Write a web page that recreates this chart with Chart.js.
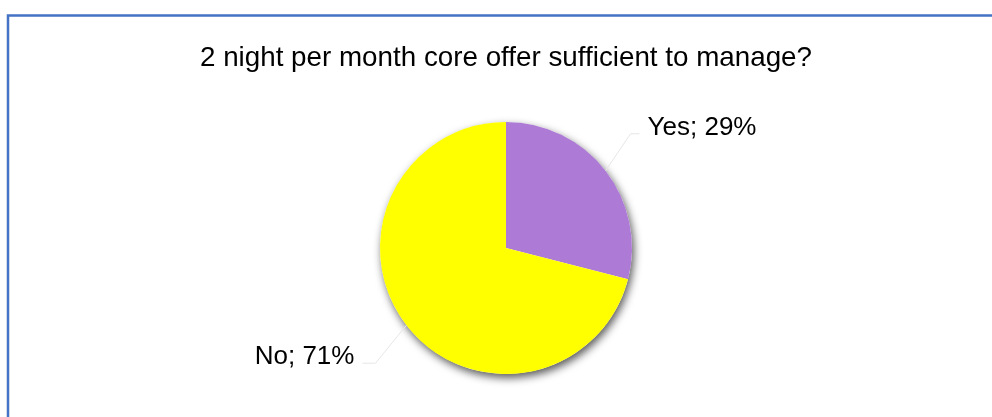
<!DOCTYPE html>
<html>
<head>
<meta charset="utf-8">
<script src="https://cdn.jsdelivr.net/npm/chart.js@4.4.1/dist/chart.umd.min.js"></script>
<style>
  html, body { margin: 0; padding: 0; background: #ffffff; }
  #wrap { width: 992px; height: 417px; position: relative; }
</style>
</head>
<body>
<div id="wrap"><canvas id="pie"></canvas></div>
<script>
// answers to the survey question
const categories = ["Yes", "No"];
const shares = [29, 71];
const sliceColors = ["#AD7BD6", "#FFFF00"];

// leader line layout per slice: elbow offset from the slice edge, then the short run
const leaders = [
  { dx: 25, dy: -37, run: 9, side: 1 },
  { dx: -31, dy: 38, run: -13, side: -1 },
];

const FONT = "'Liberation Sans', Arial, sans-serif";

// blue frame around the whole chart
const framePlugin = {
  id: "frame",
  beforeDraw(chart) {
    const ctx = chart.ctx;
    ctx.save();
    ctx.strokeStyle = "#4472C4";
    ctx.lineWidth = 2.5;
    ctx.strokeRect(8, 15.5, 1000, 430);
    ctx.restore();
  },
};

// soft drop shadow under the pie
const shadowPlugin = {
  id: "pieShadow",
  beforeDatasetsDraw(chart) {
    const arc = chart.getDatasetMeta(0).data[0];
    if (!arc) return;
    const ctx = chart.ctx;
    ctx.save();
    ctx.shadowColor = "rgba(0,0,0,0.65)";
    ctx.shadowBlur = 9;
    ctx.shadowOffsetX = 2;
    ctx.shadowOffsetY = 4;
    ctx.fillStyle = "#ffffff";
    ctx.beginPath();
    ctx.arc(arc.x, arc.y, arc.outerRadius, 0, Math.PI * 2);
    ctx.fill();
    ctx.restore();
  },
};

// "Name; NN%" labels outside the slices with elbow leader lines
const labelPlugin = {
  id: "outsideLabels",
  afterDatasetsDraw(chart) {
    const ctx = chart.ctx;
    const meta = chart.getDatasetMeta(0);
    const total = shares.reduce((a, b) => a + b, 0);
    ctx.save();
    meta.data.forEach((arc, i) => {
      const mid = (arc.startAngle + arc.endAngle) / 2;
      const x0 = arc.x + Math.cos(mid) * arc.outerRadius;
      const y0 = arc.y + Math.sin(mid) * arc.outerRadius;
      const l = leaders[i];
      const x1 = x0 + l.dx;
      const y1 = y0 + l.dy;
      const x2 = x1 + l.run;

      ctx.strokeStyle = "#e6e6e6";
      ctx.lineWidth = 1;
      ctx.beginPath();
      ctx.moveTo(x0, y0);
      ctx.lineTo(x1, y1);
      ctx.lineTo(x2, y1);
      ctx.stroke();

      const pct = Math.round((shares[i] / total) * 100);
      ctx.fillStyle = "#000000";
      ctx.font = "26px " + FONT;
      ctx.textBaseline = "middle";
      ctx.textAlign = l.side > 0 ? "left" : "right";
      ctx.fillText(categories[i] + "; " + pct + "%", x2 + l.side * 8, y1 - 6);
    });
    ctx.restore();
  },
};

new Chart(document.getElementById("pie"), {
  type: "pie",
  data: {
    labels: categories,
    datasets: [
      {
        data: shares,
        backgroundColor: sliceColors,
        borderWidth: 0,
      },
    ],
  },
  options: {
    responsive: true,
    maintainAspectRatio: false,
    animation: false,
    layout: {
      padding: { top: 41, bottom: 43, left: 200, right: 180 },
    },
    plugins: {
      legend: { display: false },
      tooltip: { enabled: false },
      title: {
        display: true,
        text: "2 night per month core offer sufficient to manage?",
        color: "#000000",
        font: { family: FONT, size: 28, weight: "normal" },
        padding: { top: 0, bottom: 47.4 },
      },
    },
  },
  plugins: [framePlugin, shadowPlugin, labelPlugin],
});
</script>
</body>
</html>
